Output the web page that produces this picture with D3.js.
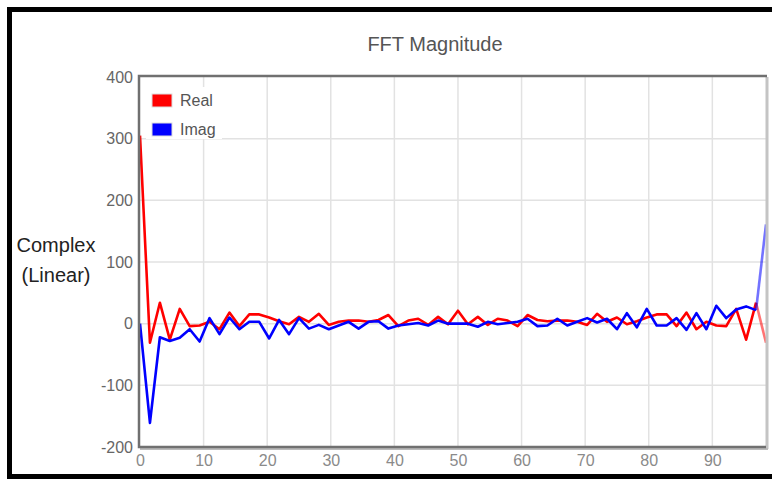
<!DOCTYPE html>
<html>
<head>
<meta charset="utf-8">
<script src="https://cdn.jsdelivr.net/npm/d3@7"></script>
<style>
  html, body { margin: 0; padding: 0; background: #fff; }
  svg { display: block; }
  svg text { font-family: Arial, "Liberation Sans", sans-serif; }
</style>
</head>
<body>
<div id="chart"></div>
<script>
// FFT de 64 puntos, frecuencia de muestreo 100
const sampleRate = 100;
const nPoints = 64;

const realValues = [305, -31, 34, -26, 24, -4, -3, 3, -9, 18,
  -4, 15, 15, 10, 4, -1, 11, 3, 16, -2,
  3, 5, 5, 3, 6, 14, -4, 5, 8, -2,
  11, -1, 21, -1, 11, -2, 8, 5, -4, 14,
  6, 4, 5, 5, 3, -2, 16, 3, 10, -1,
  4, 10, 15, 15, -4, 18, -9, 3, -3, -4,
  24, -26, 34, -31];

const imagValues = [0, -161, -22, -28, -23, -9, -29, 9, -17, 10,
  -9, 3, 3, -24, 6, -17, 9, -8, -2, -9,
  -3, 3, -8, 3, 4, -8, -3, -1, 1, -3,
  5, 0, 0, 0, -5, 3, -1, 1, 3, 8,
  -4, -3, 8, -3, 3, 9, 2, 8, -9, 17,
  -6, 24, -3, -3, 9, -10, 17, -9, 29, 9,
  23, 28, 22, 161];

const xTicks = [0, 10, 20, 30, 40, 50, 60, 70, 80, 90];
const yTicks = [-200, -100, 0, 100, 200, 300, 400];

const series = [
  { name: "Real", color: "#ff0000", values: realValues },
  { name: "Imag", color: "#0000ff", values: imagValues }
];

const width = 772;
const height = 479;
const plot = { left: 140, right: 766, top: 77, bottom: 447 };

const svg = d3.select("#chart")
  .append("svg")
  .attr("width", width)
  .attr("height", height);

// marco negro exterior
svg.append("rect")
  .attr("x", 9.5).attr("y", 9.5)
  .attr("width", 800).attr("height", 467)
  .attr("fill", "#fff")
  .attr("stroke", "#000")
  .attr("stroke-width", 5);

const x = d3.scaleLinear()
  .domain([0, (nPoints - 1) * sampleRate / nPoints])
  .range([plot.left, plot.right]);

const y = d3.scaleLinear()
  .domain([-200, 400])
  .range([plot.bottom, plot.top]);

// titulo
svg.append("text")
  .attr("x", 435).attr("y", 51)
  .attr("text-anchor", "middle")
  .attr("fill", "#555")
  .style("font-size", "20px")
  .text("FFT Magnitude");

// rejilla
const grid = svg.append("g").attr("class", "grid");
grid.selectAll(".vgrid")
  .data(xTicks.filter(d => d > 0))
  .join("line")
  .attr("x1", d => x(d)).attr("x2", d => x(d))
  .attr("y1", plot.top).attr("y2", plot.bottom)
  .attr("stroke", "#e2e2e2").attr("stroke-width", 1.5);
grid.selectAll(".hgrid")
  .data(yTicks.filter(d => d > -200 && d < 400))
  .join("line")
  .attr("x1", plot.left).attr("x2", plot.right)
  .attr("y1", d => y(d)).attr("y2", d => y(d))
  .attr("stroke", "#e2e2e2").attr("stroke-width", 1.5);

// etiquetas de ejes (guion normal en los negativos)
const yAxis = d3.axisLeft(y).tickValues(yTicks).tickSize(0).tickPadding(7)
  .tickFormat(d => String(d));
const gy = svg.append("g")
  .attr("transform", `translate(${plot.left},0)`)
  .call(yAxis);
gy.select(".domain").remove();
gy.selectAll("text").attr("fill", "#666").style("font-size", "16px");

const xAxis = d3.axisBottom(x).tickValues(xTicks).tickSize(0).tickPadding(8)
  .tickFormat(d => String(d));
const gx = svg.append("g")
  .attr("transform", `translate(0,${plot.bottom})`)
  .call(xAxis);
gx.select(".domain").remove();
gx.selectAll("text").attr("fill", "#8a8a8a").style("font-size", "16px");

// titulo eje Y
const yTitle = svg.append("text")
  .attr("text-anchor", "middle")
  .attr("fill", "#222")
  .style("font-size", "20px");
yTitle.append("tspan").attr("x", 56).attr("y", 252).text("Complex");
yTitle.append("tspan").attr("x", 56).attr("y", 282).text("(Linear)");

// lineas
const freqOf = i => i * sampleRate / nPoints;
const lines = svg.append("g").attr("class", "lines");
series.forEach(s => {
  const pts = s.values.map((v, i) => [freqOf(i), v]);
  const line = d3.line().x(d => x(d[0])).y(d => y(d[1]));
  lines.append("path")
    .attr("d", line(pts.slice(0, nPoints - 1)))
    .attr("fill", "none")
    .attr("stroke", s.color)
    .attr("stroke-width", 2.6)
    .attr("stroke-linejoin", "round");
  // ultimo tramo mas claro, como en la captura
  lines.append("path")
    .attr("d", line(pts.slice(nPoints - 2)))
    .attr("fill", "none")
    .attr("stroke", s.color)
    .attr("stroke-opacity", 0.55)
    .attr("stroke-width", 2.6);
});

// borde del area del grafico
svg.append("line")
  .attr("x1", plot.right + 1).attr("x2", plot.right + 1)
  .attr("y1", plot.top).attr("y2", plot.bottom + 2)
  .attr("stroke", "#c4c4c4").attr("stroke-width", 3);
svg.append("line")
  .attr("x1", plot.left).attr("x2", plot.right + 2)
  .attr("y1", plot.bottom + 2).attr("y2", plot.bottom + 2)
  .attr("stroke", "#bbb").attr("stroke-width", 2);
svg.append("path")
  .attr("d", `M${plot.right + 1},${plot.top - 1}H${plot.left - 1}V${plot.bottom}H${plot.right}`)
  .attr("fill", "none")
  .attr("stroke", "#707070")
  .attr("stroke-width", 2.5);

// leyenda
const legend = svg.append("g")
  .attr("transform", `translate(146,87)`);
legend.append("rect")
  .attr("width", 76).attr("height", 52)
  .attr("fill", "#fff");
series.forEach((s, i) => {
  legend.append("rect")
    .attr("x", 6).attr("y", 7 + i * 29)
    .attr("width", 20).attr("height", 13)
    .attr("fill", s.color)
    .attr("stroke", "#ddd").attr("stroke-width", 1);
  legend.append("text")
    .attr("x", 34).attr("y", 19 + i * 29)
    .attr("fill", "#555")
    .style("font-size", "16px")
    .text(s.name);
});
</script>
</body>
</html>
